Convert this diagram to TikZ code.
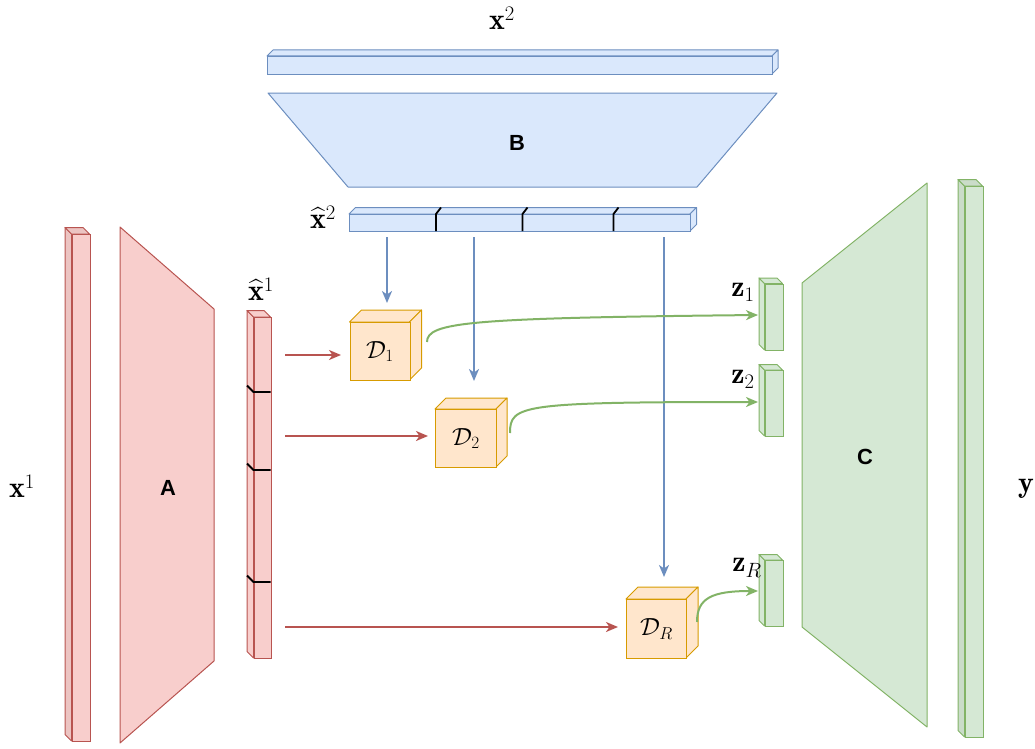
\documentclass[tikz,border=0pt]{standalone}
\usepackage{fontspec}
\usepackage{amsmath}
\newfontfamily\lblfont{Liberation Sans}
\usetikzlibrary{arrows.meta,calc}
\definecolor{rfill}{HTML}{F8CECC}\definecolor{rline}{HTML}{B85450}
\definecolor{bfill}{HTML}{DAE8FC}\definecolor{bline}{HTML}{6C8EBF}
\definecolor{gfill}{HTML}{D5E8D4}\definecolor{gline}{HTML}{82B366}
\definecolor{ofill}{HTML}{FFE6CC}\definecolor{oline}{HTML}{D79B00}
% cuboid with depth toward upper-left: x1,y1,x2,y2,d,colour prefix,side shade
\newcommand\cubUL[7]{%
  \filldraw[fill=#6fill!#7!black,draw=#6line,line width=1bp,line join=round]
    (#1,#2) -- (#1-#5,#2-#5) -- (#1-#5,#4-#5) -- (#1,#4) -- cycle;
  \filldraw[fill=#6fill!#7!black,draw=#6line,line width=1bp,line join=round]
    (#1,#2) -- (#1-#5,#2-#5) -- (#3-#5,#2-#5) -- (#3,#2) -- cycle;}
% cuboid with depth toward upper-right
\newcommand\cubUR[7]{%
  \filldraw[fill=#6fill!#7!black,draw=#6line,line width=1bp,line join=round]
    (#1,#2) -- (#1+#5,#2-#5) -- (#3+#5,#2-#5) -- (#3,#2) -- cycle;
  \filldraw[fill=#6fill!#7!black,draw=#6line,line width=1bp,line join=round]
    (#3,#2) -- (#3+#5,#2-#5) -- (#3+#5,#4-#5) -- (#3,#4) -- cycle;}
\tikzset{
  face/.style={draw=#1line,fill=#1fill,line width=1bp,inner sep=0pt,anchor=north west},
  trap/.style={draw=#1line,fill=#1fill,line width=1bp,line join=round},
  mlbl/.style={inner sep=0pt,font=\fontsize{30}{34}\selectfont},
  dlbl/.style={font=\fontsize{26}{30}\selectfont},
  blbl/.style={inner sep=0pt,font=\lblfont\bfseries\fontsize{22}{26}\selectfont},
  tick/.style={draw=black,line width=1.8bp},
  conn/.style={line width=2bp,-{Stealth[length=12bp,width=10bp,inset=3.5bp]}},
}
\begin{document}
\begin{tikzpicture}[x=1bp,y=-1bp]
\useasboundingbox (0,0) rectangle (1035,749);
% ---------- left: x1 bar, A, x-hat-1 bar ----------
\cubUL{71.5}{234}{89.5}{741}{6.5}{r}{95}
\node[face=r,minimum width=18bp,minimum height=507bp] (x1bar) at (71.5,234) {};
\filldraw[trap=r] (120,227) -- (214,309) -- (214,661) -- (120,743) -- cycle;
\node[blbl] (A) at (168,488) {A};
\cubUL{253.5}{317}{270.5}{658}{6.5}{r}{100}
\node[face=r,minimum width=17bp,minimum height=341bp] (xh1bar) at (253.5,317) {};
\foreach \ty in {392,470,582}{
  \draw[tick] (247,\ty-6.5) -- (253.5,\ty) -- (270.5,\ty);}
% ---------- top: x2 bar, B, x-hat-2 bar ----------
\cubUR{267}{56}{772}{74}{6}{b}{100}
\node[face=b,minimum width=505bp,minimum height=18bp] (x2bar) at (267,56) {};
\filldraw[trap=b] (268,93) -- (777,93) -- (697,187) -- (348,187) -- cycle;
\node[blbl] (B) at (517,143) {B};
\cubUR{349}{214}{690}{231}{6.5}{b}{100}
\node[face=b,minimum width=341bp,minimum height=17bp] (xh2bar) at (349,214) {};
\foreach \tx in {436,522.5,613.5}{
  \draw[tick] (\tx,231) -- (\tx,214) -- (\tx+5,207.5);}
% ---------- right: C, y bar ----------
\filldraw[trap=g] (802,283) -- (927,183) -- (927,727) -- (802,627) -- cycle;
\node[blbl] (C) at (865,457) {C};
\cubUL{964.5}{186}{982.5}{737}{6.5}{g}{95}
\node[face=g,minimum width=18bp,minimum height=551bp] (ybar) at (964.5,186) {};
% ---------- z boxes ----------
\cubUL{764.5}{283.5}{782.5}{350}{5.5}{g}{100}
\node[face=g,minimum width=18bp,minimum height=66.5bp] (z1) at (764.5,283.5) {};
\cubUL{764.5}{370}{782.5}{436}{5.5}{g}{100}
\node[face=g,minimum width=18bp,minimum height=66bp] (z2) at (764.5,370) {};
\cubUL{764.5}{560}{782.5}{626}{5.5}{g}{100}
\node[face=g,minimum width=18bp,minimum height=66bp] (zR) at (764.5,560) {};
% ---------- D cubes ----------
\cubUR{349.5}{322}{409.5}{380}{12}{o}{100}
\node[face=o,minimum width=60bp,minimum height=58bp,dlbl] (d1) at (349.5,322) {$\mathcal{D}_1$};
\cubUR{435}{409}{496}{467}{11}{o}{100}
\node[face=o,minimum width=61bp,minimum height=58bp,dlbl] (d2) at (435,409) {$\mathcal{D}_2$};
\cubUR{626}{599}{686}{658}{12}{o}{100}
\node[face=o,minimum width=60bp,minimum height=59bp,dlbl] (dR) at (626,599) {$\mathcal{D}_R$};
% ---------- labels ----------
\node[mlbl] (lx2) at (502,18) {$\mathbf{x}^2$};
\node[mlbl] (lxh2) at (323,217) {$\widehat{\mathbf{x}}^2$};
\node[mlbl] (lxh1) at (261,289) {$\widehat{\mathbf{x}}^1$};
\node[mlbl] (lx1) at (22,486) {$\mathbf{x}^1$};
\node[mlbl] (lz1) at (743,292) {$\mathbf{z}_1$};
\node[mlbl] (lz2) at (743,379) {$\mathbf{z}_2$};
\node[mlbl] (lzR) at (747,568) {$\mathbf{z}_R$};
\node[mlbl] (ly) at (1026,489) {$\mathbf{y}$};
% ---------- connector end points ----------
\coordinate (b1s) at (387,237);  \coordinate (b1e) at (387,303);
\coordinate (b2s) at (474,237);  \coordinate (b2e) at (474,381);
\coordinate (b3s) at (664,237);  \coordinate (b3e) at (664,577);
\coordinate (r1s) at (285,355);  \coordinate (r1e) at (341,355);
\coordinate (r2s) at (285,436);  \coordinate (r2e) at (428,436);
\coordinate (r3s) at (285,627);  \coordinate (r3e) at (618,627);
\coordinate (g1s) at (427,342);  \coordinate (g1e) at (758,315);
\coordinate (g2s) at (510,433);  \coordinate (g2e) at (758,402);
\coordinate (g3s) at (697,622);  \coordinate (g3e) at (758,591);
% ---------- connectors ----------
\draw[conn,bline] (b1s) -- (b1e);
\draw[conn,bline] (b2s) -- (b2e);
\draw[conn,bline] (b3s) -- (b3e);
\draw[conn,rline] (r1s) -- (r1e);
\draw[conn,rline] (r2s) -- (r2e);
\draw[conn,rline] (r3s) -- (r3e);
\draw[conn,gline] (g1s) .. controls (427,322) and (470,318) .. (g1e);
\draw[conn,gline] (g2s) .. controls (510,405) and (520,402) .. (g2e);
\draw[conn,gline] (g3s) .. controls (697,598) and (712,591) .. (g3e);
\end{tikzpicture}
\end{document}
